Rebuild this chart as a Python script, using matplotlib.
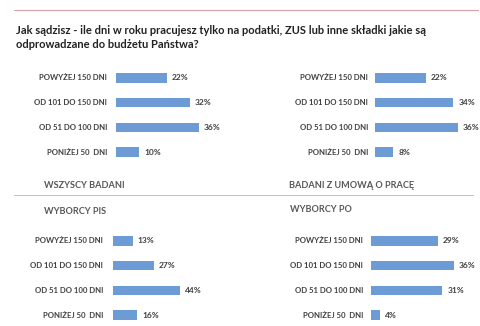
import matplotlib.pyplot as plt
from matplotlib.lines import Line2D

plt.rcParams['font.family'] = ['Lato', 'DejaVu Sans']

W, H = 480, 326

title = ("Jak sądzisz - ile dni w roku pracujesz tylko na podatki, ZUS lub inne składki jakie są\n"
         "odprowadzane do budżetu Państwa?")
answers = ["POWYŻEJ 150 DNI", "OD 101 DO 150 DNI", "OD 51 DO 100 DNI", "PONIŻEJ 50  DNI"]

wszyscy = [22, 32, 36, 10]
umowa = [22, 34, 36, 8]
pis = [13, 27, 44, 16]
po = [29, 36, 31, 4]

bar_color = "#6c9bd6"
text_color = "#404040"


def px_axes(fig, left, top, width, height):
    # axes placed in pixel units, origin at the top-left corner
    return fig.add_axes([left / W, 1 - (top + height) / H, width / W, height / H])


def panel(fig, values, left, top, px_per_pct, label_gap):
    ax = px_axes(fig, left, top, 100 * px_per_pct, 99)
    ax.set_xlim(0, 100)
    ax.set_ylim(3.5, -0.5)
    ax.barh(range(len(values)), values, height=0.38, color=bar_color)
    for i, v in enumerate(values):
        ax.text(v + 5 / px_per_pct, i, f"{v}%", va="center", ha="left",
                fontsize=6, fontweight="bold", color=text_color)
        ax.text(-label_gap / px_per_pct, i, answers[i], va="center", ha="right",
                fontsize=5.6, fontweight="bold", color=text_color)
    ax.axis("off")
    return ax


fig = plt.figure(figsize=(W / 100, H / 100), dpi=100)

# thin rule at the top of the page
fig.add_artist(Line2D([14 / W, 478 / W], [1 - 10 / H, 1 - 10 / H],
                      color="#d8a0a8", lw=0.8))
fig.text(16 / W, 1 - 25 / H, title, ha="left", va="top", fontsize=8,
         fontweight="bold", color="#222222", linespacing=1.3)

panel(fig, wszyscy, 116, 65.5, 2.3, 9)
panel(fig, umowa, 375, 65.5, 2.3, 7)
panel(fig, pis, 113, 228.5, 1.52, 10)
panel(fig, po, 371, 228.5, 2.3, 8)

# group captions and the separator between the two rows of panels
fig.text(44 / W, 1 - 185 / H, "WSZYSCY BADANI", ha="left", va="center",
         fontsize=6.6, fontweight="bold", color="#595959")
fig.text(289 / W, 1 - 185 / H, "BADANI Z UMOWĄ O PRACĘ", ha="left", va="center",
         fontsize=6.6, fontweight="bold", color="#595959")
fig.add_artist(Line2D([14 / W, 473 / W], [1 - 195 / H, 1 - 195 / H],
                      color="#bfbfbf", lw=0.7))
fig.text(44 / W, 1 - 211 / H, "WYBORCY PIS", ha="left", va="center",
         fontsize=6.6, fontweight="bold", color="#595959")
fig.text(290 / W, 1 - 209 / H, "WYBORCY PO", ha="left", va="center",
         fontsize=6.6, fontweight="bold", color="#595959")

fig.savefig("out.png", dpi=100)
